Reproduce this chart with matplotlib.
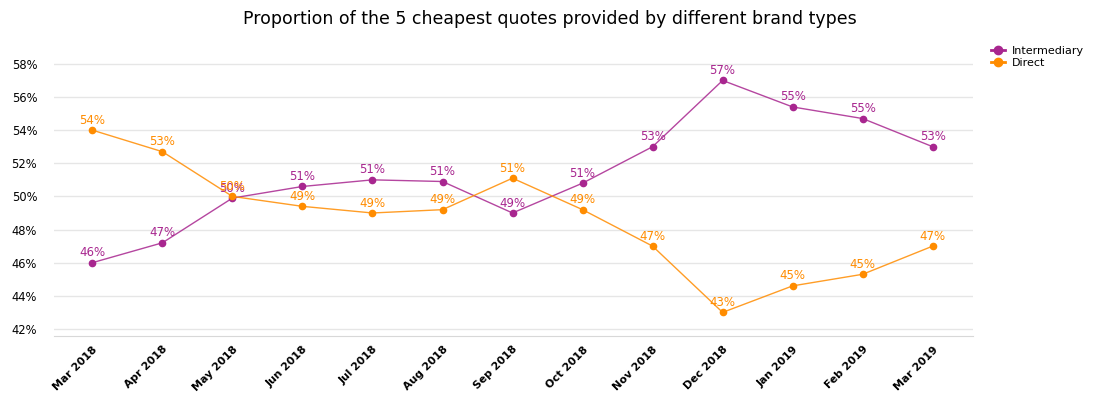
import matplotlib.pyplot as plt
from matplotlib.ticker import FuncFormatter
from matplotlib.lines import Line2D

months = ["Mar 2018", "Apr 2018", "May 2018", "Jun 2018", "Jul 2018", "Aug 2018",
          "Sep 2018", "Oct 2018", "Nov 2018", "Dec 2018", "Jan 2019", "Feb 2019", "Mar 2019"]
intermediary = [46.0, 47.2, 49.9, 50.6, 51.0, 50.9, 49.0, 50.8, 53.0, 57.0, 55.4, 54.7, 53.0]
direct = [54.0, 52.7, 50.0, 49.4, 49.0, 49.2, 51.1, 49.2, 47.0, 43.0, 44.6, 45.3, 47.0]

purple = "#a8268f"
orange = "#ff8c00"

fig = plt.figure(figsize=(10.99, 3.98), dpi=100)
ax = fig.add_axes([0.049, 0.156, 0.836, 0.696])

x = list(range(len(months)))
for vals, col in [(intermediary, purple), (direct, orange)]:
    ax.plot(x, vals, color=col, lw=1, alpha=0.85, zorder=3)
    ax.plot(x, vals, "o", color=col, ms=4.5, zorder=4)
    for xi, v in zip(x, vals):
        ax.annotate(f"{v:.0f}%", (xi, v), xytext=(0, 2.5), textcoords="offset points",
                    ha="center", va="bottom", color=col, fontsize=8.5, zorder=5)

ax.set_xlim(-0.55, 12.57)
ax.set_ylim(41.58, 58.3)
ax.set_yticks(range(42, 59, 2))
ax.yaxis.set_major_formatter(FuncFormatter(lambda v, p: f"{v:.0f}%"))
ax.set_xticks(x)
ax.set_xticklabels(months, rotation=45, ha="right", rotation_mode="anchor",
                   fontsize=7.8, fontweight="bold")
ax.tick_params(axis="y", length=0, labelsize=8.3, pad=12)
ax.tick_params(axis="x", length=0, pad=6)
ax.grid(axis="y", color="#e6e6e6", lw=1)
ax.set_axisbelow(True)
for s in ["top", "right", "left"]:
    ax.spines[s].set_visible(False)
ax.spines["bottom"].set_color("#d8d8d8")

fig.suptitle("Proportion of the 5 cheapest quotes provided by different brand types",
             y=0.975, fontsize=12.5)

handles = [Line2D([0], [0], color=purple, marker="o", lw=2, ms=6),
           Line2D([0], [0], color=orange, marker="o", lw=2, ms=6)]
fig.legend(handles, ["Intermediary", "Direct"], loc="upper left",
           bbox_to_anchor=(0.893, 0.91), frameon=False, fontsize=8,
           handlelength=1.2, handletextpad=0.6, labelspacing=0.2)

fig.savefig("out.png", dpi=100)
